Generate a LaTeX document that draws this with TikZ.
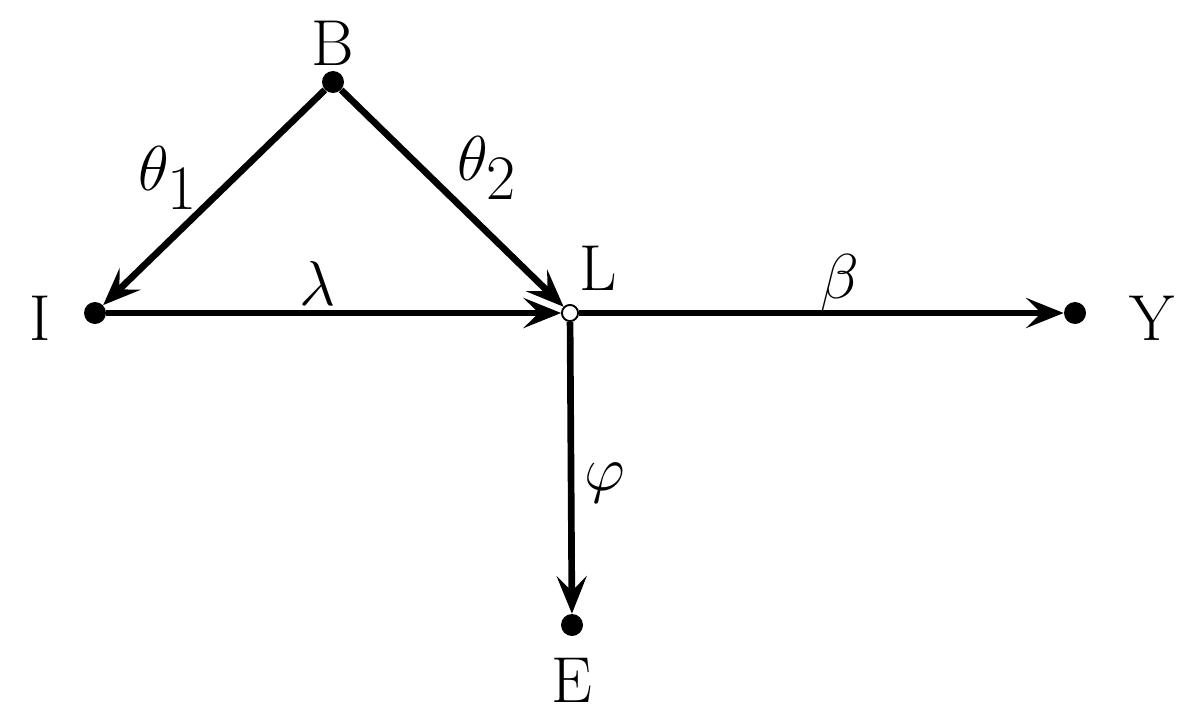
\documentclass[tikz,border=0pt]{standalone}
\usetikzlibrary{arrows.meta}
\begin{document}
\begin{tikzpicture}[x=0.02cm,y=-0.02cm,
  dot/.style={circle,fill=black,inner sep=0pt,minimum size=0.44cm},
  odot/.style={circle,draw=black,fill=white,line width=1pt,inner sep=0pt,minimum size=0.32cm},
  edge/.style={line width=3.8pt,-{Stealth[length=0.75cm,width=0.6cm,inset=0.3cm]}},
  lab/.style={font=\fontsize{37}{40}\selectfont},
  mlab/.style={font=\fontsize{37}{40}\selectfont,scale=1.45}]
\useasboundingbox (0,0) rectangle (1190,717);
\node[dot] (I) at (95,313) {};
\node[dot] (B) at (333,82) {};
\node[dot] (Y) at (1075,313) {};
\node[dot] (E) at (572,625) {};
\node[odot] (L) at (570,313) {};
\draw[edge] (B) -- (I);
\draw[edge] (B) -- (L);
\draw[edge] (I) -- (L);
\draw[edge] (L) -- (Y);
\draw[edge] (L) -- (E);
\node[odot] at (570,313) {};
\node[lab] (tB) at (333,43) {B};
\node[lab] (tI) at (40,318) {I};
\node[lab] (tY) at (1152,318) {Y};
\node[lab] (tE) at (572,680) {E};
\node[lab] (tL) at (598,268) {L};
\node[mlab] (t1) at (168,178) {$\theta_1$};
\node[mlab] (t2) at (487,168) {$\theta_2$};
\node[mlab] (tl) at (318,283) {$\lambda$};
\node[mlab] (tb) at (840,283) {$\beta$};
\node[mlab] (tp) at (605,483) {$\varphi$};
\end{tikzpicture}
\end{document}
